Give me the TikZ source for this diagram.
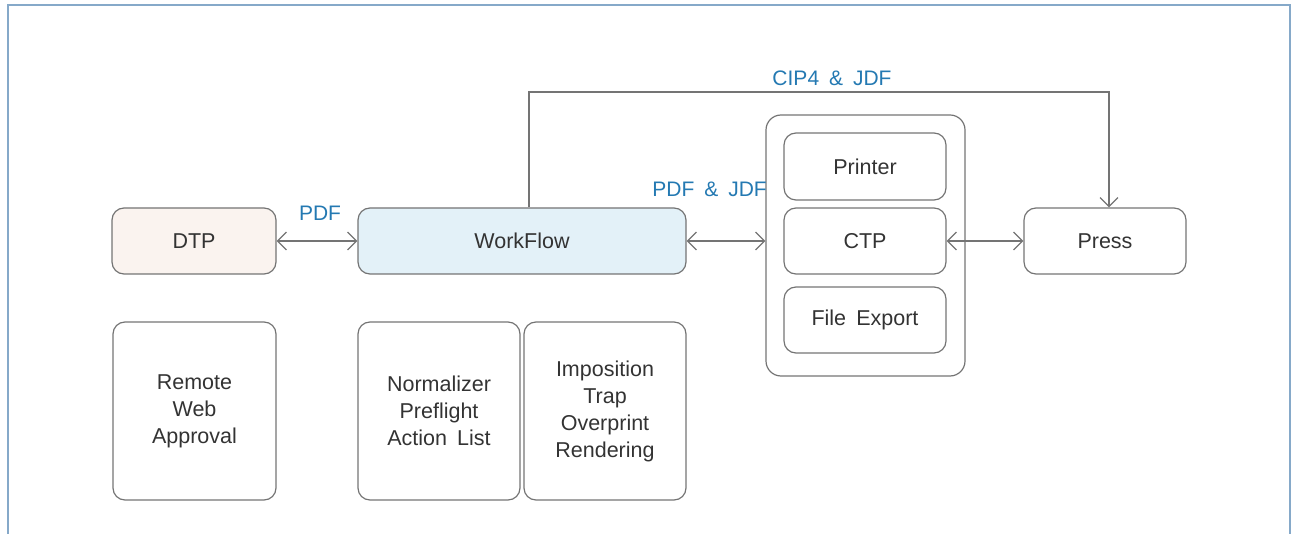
\documentclass[tikz,border=0pt]{standalone}
\usepackage{fontspec}
\setmainfont{Liberation Sans}[WordSpace=1.7]
\usetikzlibrary{arrows.meta,calc}
\definecolor{linegray}{HTML}{747474}
\definecolor{textgray}{HTML}{333333}
\definecolor{labelblue}{HTML}{2479B2}
\definecolor{framecol}{HTML}{86A9C9}
\definecolor{dtpfill}{HTML}{FAF3EF}
\definecolor{wffill}{HTML}{E3F1F8}
\tikzset{
  box/.style={draw=linegray, line width=1.2pt, rounded corners=12pt, align=center,
    text=textgray, font=\fontsize{21.5}{27}\selectfont, inner sep=0pt},
  conn/.style={draw=linegray, line width=1.2pt},
  lbl/.style={text=labelblue, font=\fontsize{21}{25}\selectfont, inner sep=0pt}
}
\begin{document}
\begin{tikzpicture}[x=1pt,y=-1pt]
\useasboundingbox (0,0) rectangle (1295,534);
\begin{scope}
\clip (0,0) rectangle (1295,534);
\draw[framecol, line width=2pt] (8,5) rectangle (1290,570);
\end{scope}
% top row
\node[box, fill=dtpfill, minimum width=164pt, minimum height=66pt] (dtp) at (194,241) {DTP};
\node[box, fill=wffill, minimum width=328pt, minimum height=66pt] (wf) at (522,241) {WorkFlow};
\node[box, rounded corners=15pt, minimum width=199pt, minimum height=261pt] (cont) at (865.5,245.5) {};
\node[box, minimum width=162pt, minimum height=67pt] (printer) at (865,166.5) {Printer};
\node[box, minimum width=162pt, minimum height=66pt] (ctp) at (865,241) {CTP};
\node[box, minimum width=162pt, minimum height=66pt] (fexp) at (865,320) {File Export};
\node[box, minimum width=162pt, minimum height=66pt] (press) at (1105,241) {Press};
% bottom row
\node[box, minimum width=163pt, minimum height=178pt] (remote) at (194.5,411) {Remote\\Web\\Approval};
\node[box, minimum width=162pt, minimum height=178pt] (norm) at (439,411) {Normalizer\\Preflight\\Action List};
\node[box, minimum width=162pt, minimum height=178pt] (impo) at (605,411) {Imposition\\Trap\\Overprint\\Rendering};
% connectors
\draw[conn, {Straight Barb[length=9pt,width=18pt,line width=1.2pt]}-{Straight Barb[length=9pt,width=18pt,line width=1.2pt]}] (dtp.east) -- (wf.west);
\draw[conn, {Straight Barb[length=9pt,width=18pt,line width=1.2pt]}-{Straight Barb[length=9pt,width=18pt,line width=1.2pt]}] (wf.east) -- (wf.east -| cont.west);
\draw[conn, {Straight Barb[length=9pt,width=18pt,line width=1.2pt]}-{Straight Barb[length=9pt,width=18pt,line width=1.2pt]}] (ctp.east) -- (press.west);
\coordinate (tl) at (529,92);
\coordinate (tr) at (1109,92);
\draw[conn, -{Straight Barb[length=9pt,width=18pt,line width=1.2pt]}] (tl |- wf.north) -- (tl) -- (tr) -- (tr |- press.north);
% labels
\node[lbl] (lpdf) at (320,213) {PDF};
\node[lbl, anchor=east] (lpdfjdf) at (767,189) {PDF \& JDF};
\node[lbl] (lcip) at (832,78) {CIP4 \& JDF};
\end{tikzpicture}
\end{document}
